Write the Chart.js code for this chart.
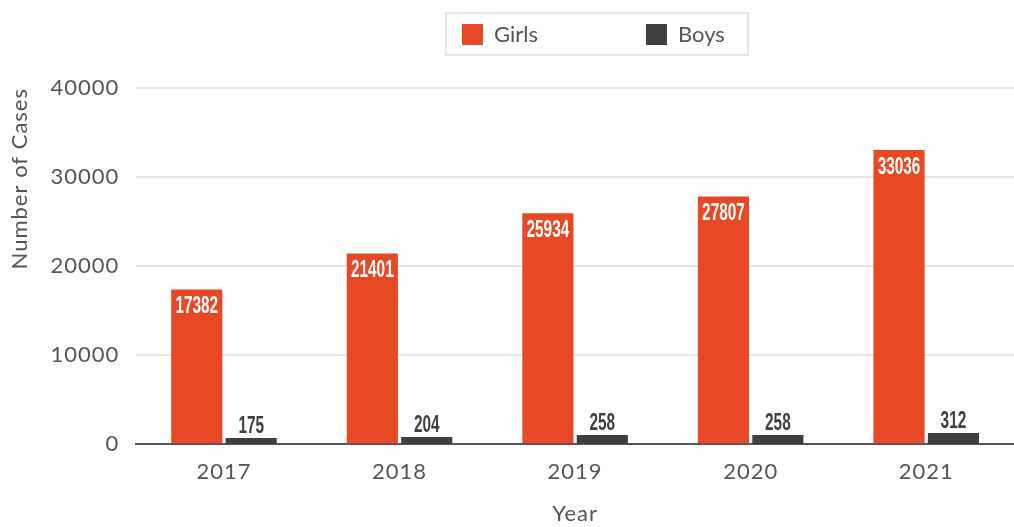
<!DOCTYPE html>
<html>
<head>
<meta charset="utf-8">
<script src="https://cdn.jsdelivr.net/npm/chart.js@4/dist/chart.umd.min.js"></script>
<style>
  html, body { margin: 0; padding: 0; background: #fff; }
  #wrap { width: 1014px; height: 527px; }
</style>
</head>
<body>
<div id="wrap"><canvas id="cases"></canvas></div>
<script>
var years = ['2017', '2018', '2019', '2020', '2021'];
var girls = [17382, 21401, 25934, 27807, 33036];
var boys = [175, 204, 258, 258, 312];
var yTicks = [0, 10000, 20000, 30000, 40000];

var RED = '#e84924';
var DARK = '#404040';
var TXT = '#555555';
var FONT = 'Lato, "Open Sans", sans-serif';
var NUMFONT = '"Liberation Sans", Arial, sans-serif';

// axis text is a bit wider in the original, so add some tracking
var tracking = {
	id: 'tracking',
	beforeUpdate: function(chart){ chart.ctx.letterSpacing = '1px'; },
	beforeDraw: function(chart){ chart.ctx.letterSpacing = '1px'; }
};

// value labels on the bars (narrow numbers, squeezed horizontally)
var barLabels = {
	id: 'barLabels',
	afterDatasetsDraw: function(chart){
		var ctx = chart.ctx;
		var sx = 0.64;
		ctx.save();
		ctx.letterSpacing = '0px';
		ctx.font = 'bold 24px ' + NUMFONT;
		ctx.textAlign = 'center';
		chart.data.datasets.forEach(function(ds, i){
			var meta = chart.getDatasetMeta(i);
			meta.data.forEach(function(bar, j){
				ctx.save();
				ctx.scale(sx, 1);
				if (i === 0) {
					ctx.fillStyle = '#ffffff';
					ctx.textBaseline = 'top';
					ctx.fillText(ds.data[j], bar.x / sx, bar.y + 5);
				} else {
					ctx.fillStyle = DARK;
					ctx.textBaseline = 'alphabetic';
					ctx.fillText(ds.data[j], bar.x / sx, bar.y - 5);
				}
				ctx.restore();
			});
		});
		ctx.restore();
	}
};

// boxed legend at the top
var boxLegend = {
	id: 'boxLegend',
	afterDraw: function(chart){
		var ctx = chart.ctx;
		var left = 446, top = 13, w = 302, h = 42;
		ctx.save();
		ctx.letterSpacing = '0px';
		ctx.strokeStyle = '#e6e8e8';
		ctx.lineWidth = 2;
		ctx.strokeRect(left, top, w, h);
		ctx.font = '22px ' + FONT;
		ctx.textBaseline = 'middle';
		ctx.textAlign = 'left';
		var xs = [462, 646];
		chart.data.datasets.forEach(function(ds, i){
			ctx.fillStyle = ds.backgroundColor;
			ctx.fillRect(xs[i], 24, 21, 21);
			ctx.fillStyle = TXT;
			ctx.fillText(ds.label, xs[i] + 32, 35);
		});
		ctx.restore();
	}
};

new Chart(document.getElementById('cases'), {
	type: 'bar',
	data: {
		labels: years,
		datasets: [
			{ label: 'Girls', data: girls, backgroundColor: RED, yAxisID: 'y',
			  barPercentage: 0.94, categoryPercentage: 0.62 },
			{ label: 'Boys', data: boys, backgroundColor: DARK, yAxisID: 'y1',
			  barPercentage: 0.94, categoryPercentage: 0.62 }
		]
	},
	options: {
		responsive: true,
		maintainAspectRatio: false,
		animation: false,
		layout: { padding: { top: 88, right: 0, bottom: 0, left: 4 } },
		plugins: {
			legend: { display: false },
			tooltip: { enabled: false }
		},
		scales: {
			x: {
				grid: { display: false, drawTicks: false },
				border: { color: '#555555', width: 2 },
				ticks: { color: TXT, font: { family: FONT, size: 22 }, padding: 15 },
				title: { display: true, text: 'Year', color: TXT, font: { family: FONT, size: 22 }, padding: { top: 0, bottom: 0 } }
			},
			y: {
				min: 0,
				max: 40000,
				afterBuildTicks: function(axis){
					axis.ticks = yTicks.map(function(v){ return { value: v }; });
				},
				grid: { color: '#e6e6e6', lineWidth: 2, drawTicks: false },
				border: { display: false },
				ticks: {
					color: TXT, font: { family: FONT, size: 22 }, padding: 17,
					callback: function(v){ return String(v); }
				},
				title: { display: true, text: 'Number of Cases', align: 'end', color: TXT, font: { family: FONT, size: 22 }, padding: { top: 3, bottom: 0 } }
			},
			y1: {
				display: false,
				min: 0,
				max: 10000
			}
		}
	},
	plugins: [tracking, barLabels, boxLegend]
});
</script>
</body>
</html>
